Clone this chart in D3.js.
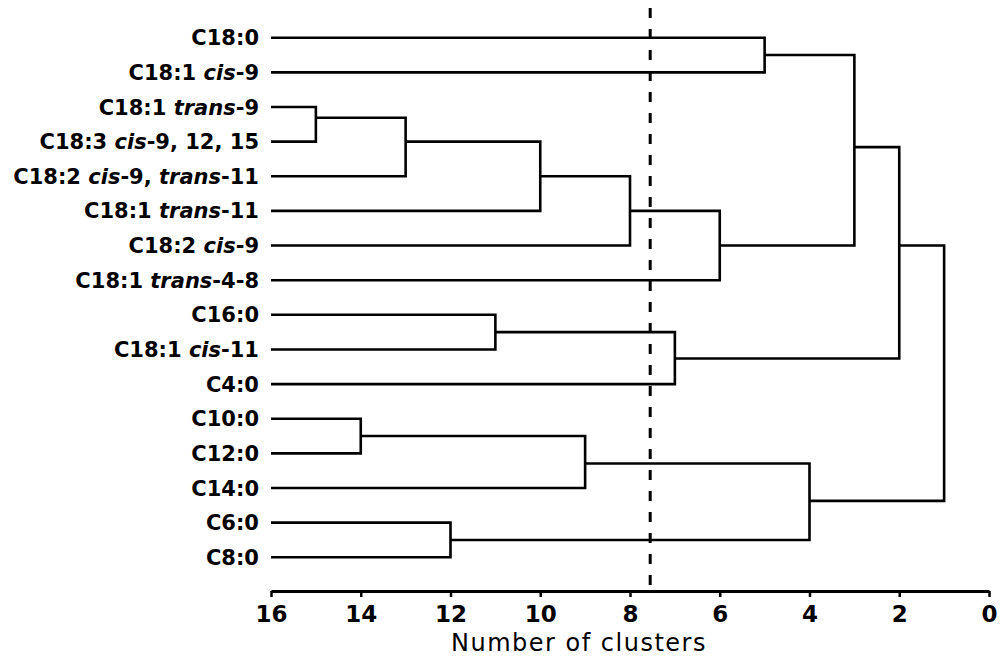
<!DOCTYPE html>
<html>
<head>
<meta charset="utf-8">
<script src="https://cdn.jsdelivr.net/npm/d3@7/dist/d3.min.js"></script>
<style>
  body { margin: 0; background: #fff; }
  svg { display: block; font-family: "DejaVu Sans", Verdana, sans-serif; }
</style>
</head>
<body>
<div id="chart"></div>
<script>
// leaves, top to bottom
const leafLabels = [
  "C18:0", "C18:1 cis-9", "C18:1 trans-9", "C18:3 cis-9, 12, 15",
  "C18:2 cis-9, trans-11", "C18:1 trans-11", "C18:2 cis-9", "C18:1 trans-4-8",
  "C16:0", "C18:1 cis-11", "C4:0", "C10:0", "C12:0", "C14:0", "C6:0", "C8:0"
];

// merges: node id = 16 + index; children are leaf ids (0-15) or merge ids
const mergeLeft = [2, 11, 16, 14, 8, 18, 17, 21, 20, 23, 0, 22, 26, 28, 29];
const mergeRight = [3, 12, 4, 15, 9, 5, 13, 6, 10, 7, 1, 19, 25, 24, 27];
const mergeClusters = [15, 14, 13, 12, 11, 10, 9, 8, 7, 6, 5, 4, 3, 2, 1];
// vertical position of each merge in leaf-row units
const mergeRow = [2.31, 11.5, 3.0, 14.5, 8.5, 4.0, 12.29, 5.0, 9.26, 6.0, 0.5, 13.37, 3.16, 6.0, 9.7];

const xTicks = [16, 14, 12, 10, 8, 6, 4, 2, 0];
const cutLevel = 7.55;

const width = 1000;
const height = 656;

const svg = d3.select("#chart").append("svg")
  .attr("width", width)
  .attr("height", height);

const x = d3.scaleLinear().domain([16, 0]).range([271, 989]);
const y = d3.scaleLinear().domain([0, leafLabels.length - 1]).range([37.7, 557.3]);

// position of any node
const nodeX = (id) => (id < leafLabels.length ? x(16) : x(mergeClusters[id - leafLabels.length]));
const nodeY = (id) => (id < leafLabels.length ? y(id) : y(mergeRow[id - leafLabels.length]));

const merges = mergeLeft.map((l, i) => ({ l, r: mergeRight[i], k: mergeClusters[i] }));

// dashed cut line (drawn first so tree lines sit on top)
svg.append("line")
  .attr("x1", x(cutLevel)).attr("x2", x(cutLevel))
  .attr("y1", 8).attr("y2", 588)
  .attr("stroke", "#000")
  .attr("stroke-width", 3)
  .attr("stroke-dasharray", "10,11");

svg.append("g")
  .selectAll("path")
  .data(merges)
  .join("path")
  .attr("fill", "none")
  .attr("stroke", "#000")
  .attr("stroke-width", 2.6)
  .attr("d", (d) => {
    const xm = x(d.k);
    return `M${nodeX(d.l)},${nodeY(d.l)}H${xm}V${nodeY(d.r)}H${nodeX(d.r)}`;
  });

// leaf labels with italic cis / trans
const labels = svg.append("g")
  .attr("font-size", 21)
  .attr("font-weight", "bold")
  .attr("text-anchor", "end");

labels.selectAll("text")
  .data(leafLabels)
  .join("text")
  .attr("x", 259)
  .attr("y", (d, i) => y(i))
  .attr("dy", "0.36em")
  .each(function (d) {
    const t = d3.select(this);
    d.split(/(cis|trans)/).filter((s) => s.length).forEach((part) => {
      t.append("tspan")
        .attr("font-style", part === "cis" || part === "trans" ? "italic" : null)
        .text(part);
    });
  });

// x axis
const axis = svg.append("g")
  .attr("transform", "translate(0,591)")
  .call(d3.axisBottom(x).tickValues(xTicks).tickSize(6).tickSizeOuter(0).tickPadding(9));

axis.select(".domain").attr("stroke-width", 3);
axis.selectAll(".tick line").attr("stroke-width", 2.5);
axis.selectAll(".tick text")
  .attr("font-family", "DejaVu Sans, Verdana, sans-serif")
  .attr("font-size", 23)
  .attr("font-weight", "bold")
  .attr("fill", "#000");

svg.append("text")
  .attr("x", 579)
  .attr("y", 651)
  .attr("text-anchor", "middle")
  .attr("font-size", 24)
  .attr("letter-spacing", 1.5)
  .text("Number of clusters");
</script>
</body>
</html>
